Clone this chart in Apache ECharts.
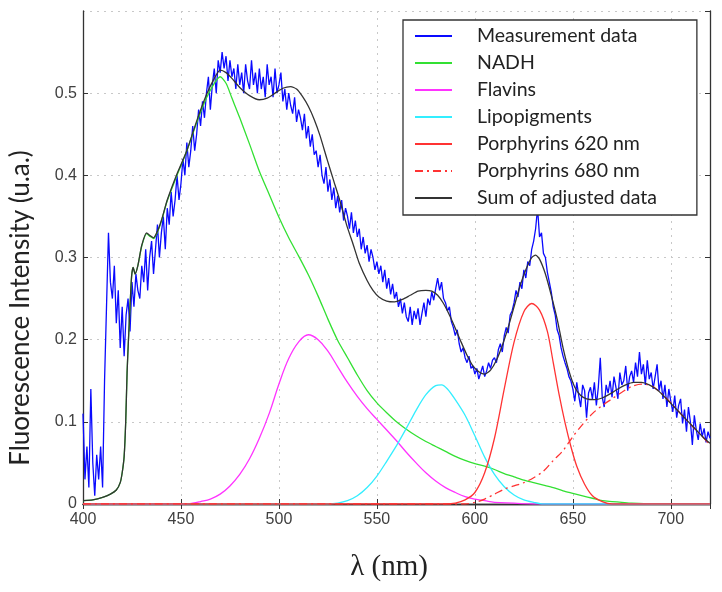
<!DOCTYPE html>
<html><head><meta charset="utf-8">
<script src="https://cdn.jsdelivr.net/npm/echarts@6/dist/echarts.min.js"></script>
<style>html,body{margin:0;padding:0;background:#fff}#c{width:722px;height:592px}</style>
</head><body><div id="c"></div>
<script>
// Measurement data: one value per nm, 400..720 nm
const measStartNm = 400;
const measurement = [
0.11,0.03,0.07,0.02,0.14,0.05,0.01,0.06,0.03,0.07,
0.02,0.15,0.24,0.33,0.27,0.25,0.29,0.22,0.26,0.19,
0.24,0.18,0.23,0.25,0.21,0.27,0.24,0.28,0.26,0.25,
0.29,0.27,0.31,0.26,0.30,0.32,0.28,0.31,0.34,0.30,
0.33,0.35,0.31,0.36,0.34,0.38,0.35,0.37,0.40,0.37,
0.39,0.42,0.40,0.44,0.41,0.43,0.46,0.43,0.45,0.48,
0.46,0.49,0.47,0.50,0.52,0.48,0.51,0.53,0.50,0.54,
0.525,0.55,0.53,0.545,0.515,0.54,0.52,0.53,0.505,0.535,
0.51,0.525,0.50,0.535,0.515,0.505,0.54,0.51,0.525,0.50,
0.53,0.505,0.52,0.495,0.535,0.51,0.52,0.495,0.53,0.50,
0.51,0.525,0.49,0.505,0.48,0.50,0.485,0.475,0.495,0.465,
0.48,0.47,0.455,0.475,0.445,0.46,0.435,0.45,0.425,0.43,
0.41,0.425,0.40,0.39,0.41,0.38,0.395,0.37,0.385,0.36,
0.375,0.355,0.37,0.345,0.36,0.35,0.335,0.355,0.33,0.345,
0.325,0.335,0.31,0.325,0.305,0.315,0.295,0.31,0.30,0.285,
0.295,0.28,0.29,0.27,0.285,0.262,0.275,0.255,0.268,0.25,
0.258,0.24,0.25,0.232,0.245,0.228,0.222,0.24,0.218,0.235,
0.225,0.238,0.218,0.232,0.245,0.228,0.25,0.242,0.258,0.248,
0.262,0.275,0.26,0.27,0.25,0.245,0.235,0.24,0.222,0.215,
0.205,0.212,0.195,0.185,0.19,0.178,0.172,0.18,0.165,0.168,
0.158,0.165,0.152,0.16,0.168,0.155,0.162,0.172,0.165,0.175,
0.178,0.172,0.188,0.195,0.185,0.205,0.215,0.208,0.23,0.235,
0.245,0.26,0.252,0.27,0.262,0.285,0.275,0.295,0.29,0.31,
0.32,0.335,0.36,0.325,0.33,0.305,0.30,0.282,0.27,0.258,
0.24,0.23,0.212,0.205,0.19,0.18,0.172,0.165,0.155,0.15,
0.14,0.125,0.148,0.132,0.118,0.145,0.138,0.105,0.135,0.142,
0.128,0.148,0.12,0.142,0.178,0.13,0.118,0.145,0.135,0.15,
0.13,0.155,0.142,0.128,0.16,0.145,0.15,0.168,0.138,0.155,
0.162,0.148,0.172,0.155,0.185,0.158,0.17,0.145,0.175,0.152,
0.16,0.14,0.155,0.17,0.138,0.15,0.128,0.145,0.118,0.14,
0.125,0.112,0.132,0.105,0.12,0.128,0.098,0.115,0.088,0.118,
0.10,0.072,0.108,0.09,0.078,0.098,0.082,0.092,0.075,0.088,
0.08
];

const nadh = [[400,0.004],[405,0.005],[410,0.008],[414,0.012],[417,0.017],[419,0.026],[420,0.038],[421,0.058],[421.8,0.1],[422.5,0.16],[423.2,0.2],[424,0.24],[424.8,0.277],[425.6,0.288],[426.6,0.28],[428,0.29],[430,0.314],[432.5,0.329],[434,0.326],[436,0.323],[438,0.331],[440,0.344],[443,0.369],[448,0.4],[453,0.43],[458,0.464],[463,0.494],[467,0.512],[470,0.52],[473,0.512],[476,0.494],[480,0.47],[485,0.438],[490,0.405],[495,0.377],[500,0.349],[505,0.324],[510,0.302],[515,0.279],[520,0.253],[525,0.225],[530,0.199],[535,0.178],[540,0.157],[545,0.138],[550,0.123],[555,0.111],[560,0.1],[565,0.091],[570,0.083],[575,0.076],[580,0.07],[585,0.064],[590,0.058],[595,0.053],[600,0.049],[605,0.046],[610,0.042],[615,0.037],[620,0.033],[625,0.029],[630,0.026],[635,0.023],[640,0.02],[645,0.016],[650,0.013],[655,0.01],[660,0.007],[665,0.004],[670,0.003],[675,0.002],[680,0.001],[690,0],[720,0]];

const flavins = [[400,0],[452,0],[456,0.001],[460,0.003],[465,0.006],[470,0.012],[475,0.022],[480,0.036],[485,0.055],[490,0.08],[495,0.11],[500,0.146],[505,0.177],[510,0.197],[515,0.206],[520,0.2],[525,0.186],[530,0.167],[535,0.148],[540,0.131],[545,0.116],[550,0.103],[555,0.09],[560,0.077],[565,0.063],[570,0.05],[575,0.038],[580,0.028],[585,0.02],[590,0.014],[595,0.009],[600,0.006],[605,0.004],[610,0.002],[620,0.001],[630,0],[720,0]];

const lipopigments = [[400,0],[525,0],[530,0.001],[535,0.004],[540,0.01],[545,0.02],[550,0.034],[555,0.052],[560,0.071],[565,0.092],[570,0.114],[575,0.133],[580,0.144],[583,0.145],[586,0.14],[590,0.127],[595,0.108],[600,0.083],[605,0.057],[610,0.036],[615,0.021],[620,0.011],[625,0.005],[630,0.002],[635,0],[720,0]];

const porph620 = [[400,0],[585,0],[590,0.001],[595,0.005],[600,0.014],[605,0.038],[610,0.08],[615,0.14],[620,0.197],[625,0.234],[629,0.244],[633,0.236],[637,0.21],[640,0.172],[643,0.133],[646,0.099],[649,0.07],[652,0.046],[656,0.024],[660,0.01],[665,0.003],[670,0],[720,0]];

const porph680 = [[400,0],[595,0],[600,0.002],[605,0.006],[610,0.012],[615,0.018],[620,0.022],[625,0.026],[630,0.032],[635,0.04],[640,0.053],[645,0.065],[650,0.082],[655,0.097],[660,0.11],[665,0.12],[670,0.128],[675,0.136],[680,0.143],[685,0.146],[690,0.144],[695,0.135],[700,0.123],[705,0.11],[710,0.097],[715,0.085],[720,0.072]];

const sumAdjusted = [[400,0.004],[405,0.005],[410,0.008],[414,0.012],[417,0.017],[419,0.026],[420,0.038],[421,0.058],[421.8,0.1],[422.5,0.16],[423.2,0.2],[424,0.24],[424.8,0.277],[425.6,0.288],[426.6,0.28],[428,0.29],[430,0.315],[432.5,0.33],[434,0.327],[436,0.324],[438,0.332],[440,0.345],[443,0.37],[448,0.402],[453,0.43],[458,0.466],[463,0.498],[467,0.518],[470,0.528],[473,0.525],[476,0.518],[480,0.507],[485,0.497],[490,0.492],[494,0.494],[498,0.5],[502,0.506],[506,0.508],[509,0.505],[512,0.496],[515,0.484],[518,0.468],[521,0.448],[524.5,0.42],[528,0.393],[531,0.37],[534.5,0.34],[538,0.315],[541,0.293],[545,0.272],[548,0.26],[551,0.252],[555,0.247],[559,0.246],[563,0.249],[567,0.254],[571,0.259],[575,0.26],[578,0.259],[581,0.254],[584,0.244],[587,0.23],[590,0.214],[593,0.197],[596,0.181],[599,0.168],[602,0.161],[605,0.158],[608,0.163],[611,0.175],[614,0.193],[617,0.215],[620,0.24],[623,0.265],[626,0.285],[629,0.3],[631,0.303],[633,0.298],[636,0.28],[639,0.254],[642,0.225],[645,0.19],[648,0.162],[651,0.142],[654,0.132],[657,0.128],[661,0.127],[665,0.129],[669,0.134],[673,0.14],[677,0.145],[681,0.148],[685,0.148],[689,0.145],[693,0.139],[697,0.13],[701,0.12],[705,0.11],[709,0.1],[713,0.09],[717,0.08],[720,0.074]];

const seriesNames = ['Measurement data','NADH','Flavins','Lipopigments','Porphyrins 620 nm','Porphyrins 680 nm','Sum of adjusted data'];
const xTicks = [400,450,500,550,600,650,700];
const yTicks = [0,0.1,0.2,0.3,0.4,0.5];

const measData = measurement.map((v,i)=>[measStartNm+i, v]);

const chart = echarts.init(document.getElementById('c'), null, {renderer:'canvas'});
const tickFont = {color:'#404040', fontSize:16, fontFamily:'Liberation Sans, Arial, sans-serif'};
const frame = {show:true, lineStyle:{color:'#333', width:1.3}};
function line(name, data, color, width, extra){
  return Object.assign({type:'line', name, data, showSymbol:false, symbol:'none', animation:false,
    lineStyle:{color, width}, itemStyle:{color}, emphasis:{disabled:true}}, extra||{});
}
chart.setOption({
  backgroundColor:'#fff',
  animation:false,
  grid:{left:83, top:11, right:12, bottom:88},
  xAxis:[{type:'value', min:400, max:720, interval:50, position:'bottom',
      axisLine:frame, axisTick:{show:true, inside:true, length:5, lineStyle:{color:'#333'}},
      axisLabel:Object.assign({margin:8, showMaxLabel:false, formatter:v=>xTicks.includes(v)?String(v):''}, tickFont),
      splitLine:{show:true, lineStyle:{color:'#c8c8c8', type:[2,5], width:1}}},
    {type:'value', min:400, max:720, interval:50, position:'top',
      axisLine:frame, axisTick:{show:true, inside:true, length:5, lineStyle:{color:'#333'}},
      axisLabel:{show:false}, splitLine:{show:false}}],
  yAxis:[{type:'value', min:0, max:0.6, interval:0.1, position:'left',
      axisLine:frame, axisTick:{show:true, inside:true, length:5, lineStyle:{color:'#333'}},
      axisLabel:Object.assign({margin:6, showMaxLabel:false, formatter:v=>{const t=yTicks.find(k=>Math.abs(k-v)<1e-9); return t===undefined?'':(t===0?'0':t.toFixed(1));}}, tickFont),
      splitLine:{show:true, lineStyle:{color:'#c8c8c8', type:[2,5], width:1}}},
    {type:'value', min:0, max:0.6, interval:0.1, position:'right',
      axisLine:frame, axisTick:{show:true, inside:true, length:5, lineStyle:{color:'#333'}},
      axisLabel:{show:false}, splitLine:{show:false}}],
  legend:{show:true, orient:'vertical', left:403, top:20,
    padding:[6,40,7,11], itemGap:7, itemWidth:37, itemHeight:20,
    backgroundColor:'#fff', borderColor:'#333', borderWidth:1.3, borderRadius:0,
    data:seriesNames,
    itemStyle:{opacity:0},
    textStyle:{fontFamily:'Lato, "Open Sans", sans-serif', fontSize:19.5, color:'#222', padding:[0,0,0,20]},
    selectedMode:false},
  series:[
    line(seriesNames[0], measData, '#0a0aff', 1.3),
    line(seriesNames[1], nadh, '#33e033', 1.3, {smooth:0.25}),
    line(seriesNames[2], flavins, '#ff33ff', 1.3, {smooth:0.4}),
    line(seriesNames[3], lipopigments, '#33eeff', 1.3, {smooth:0.3}),
    line(seriesNames[4], porph620, '#ff3333', 1.3, {smooth:0.3}),
    line(seriesNames[5], porph680, '#ff3333', 1.3, {smooth:0.3, lineStyle:{color:'#ff3333', width:1.3, type:[8,4,2,4]}}),
    line(seriesNames[6], sumAdjusted, '#333333', 1.3, {smooth:0.2})
  ],
  graphic:[
    {type:'text', x:21, y:308, rotation:Math.PI/2, style:{text:'Fluorescence Intensity (u.a.)', fontFamily:'Lato, "Open Sans", sans-serif', fontSize:26, fill:'#222', align:'center', verticalAlign:'middle'}},
    {type:'text', x:389, y:567, style:{text:'λ (nm)', fontFamily:'"Liberation Serif", "DejaVu Serif", serif', fontSize:29, fill:'#222', align:'center', verticalAlign:'middle'}}
  ]
});
</script>
</body></html>
